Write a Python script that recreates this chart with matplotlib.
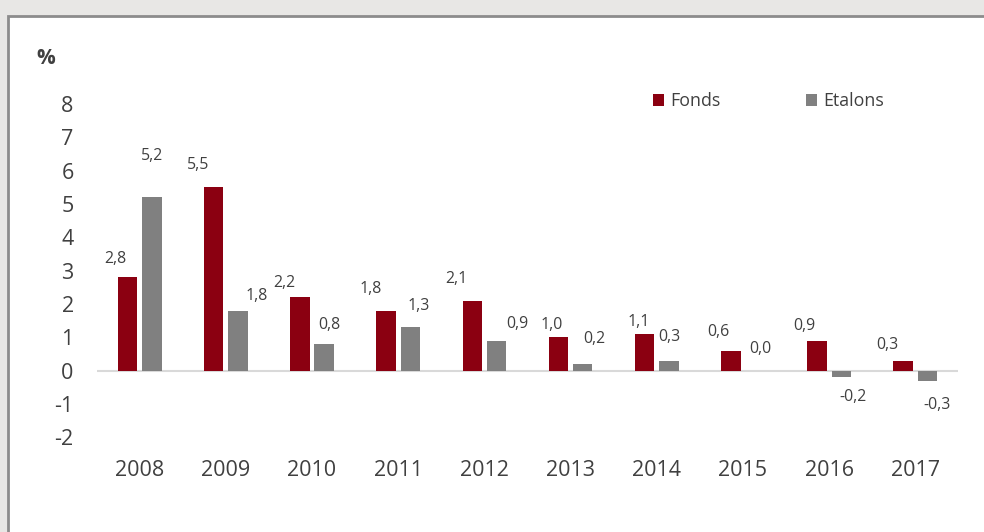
import numpy as np
import matplotlib
matplotlib.use("Agg")
import matplotlib.pyplot as plt
from matplotlib.patches import Rectangle

# Data
years = ["2008", "2009", "2010", "2011", "2012", "2013", "2014", "2015", "2016", "2017"]
fonds = [2.8, 5.5, 2.2, 1.8, 2.1, 1.0, 1.1, 0.6, 0.9, 0.3]
etalons = [5.2, 1.8, 0.8, 1.3, 0.9, 0.2, 0.3, 0.0, -0.2, -0.3]
y_ticks = [-2, -1, 0, 1, 2, 3, 4, 5, 6, 7, 8]

# Label offsets (pixels) from the bar end, as placed in the original
fonds_dx = [-12.5, -15.4, -15.8, -15.2, -15.5, -6.3, -5.5, -12.7, -12.2, -15.4]
fonds_dy = [18.7, 22.3, 14.3, 21.7, 21.7, 12.3, 12.0, 18.7, 14.7, 15.7]
etal_dx = [0.0, 18.7, 5.6, 8.5, 20.3, 11.8, 0.0, 5.7, 11.5, 9.3]
etal_dy = [41.0, 15.0, 19.0, 21.5, 16.7, 25.0, 23.2, 21.7, -19.3, -24.3]

RED = "#8b0011"
GREY = "#808080"
TXT = "#404040"

plt.rcParams["font.family"] = ["Open Sans", "DejaVu Sans"]

fig = plt.figure(figsize=(9.84, 5.32), dpi=100)
fig.patch.set_facecolor("#e8e7e5")
W, H = 984, 532

# White panel with grey border, running off the right and bottom edges
fig.patches.append(Rectangle((8 / W, -0.1), 1.2, 1 - 16 / H + 0.1,
                             transform=fig.transFigure, facecolor="white",
                             edgecolor="#8c8c8c", linewidth=2, zorder=-10))

ax = fig.add_axes([96.6 / W, 1 - 437.4 / H, 861.8 / W, 333.5 / H])
ax.set_zorder(5)
ax.patch.set_alpha(0)

x = np.arange(len(years))
w = 0.226
off = 0.141
b1 = ax.bar(x - off, fonds, w, color=RED, label="Fonds", zorder=3)
b2 = ax.bar(x + off, etalons, w, color=GREY, label="Etalons", zorder=3)
ax.axhline(0, color="#d9d9d9", lw=1.5, zorder=2)

def fmt(v):
    return f"{v:.1f}".replace(".", ",")

for i in range(len(years)):
    ax.annotate(fmt(fonds[i]), (x[i] - off, fonds[i]), xytext=(fonds_dx[i], fonds_dy[i]),
                textcoords="offset pixels", ha="center", va="center",
                fontsize=11.4, color=TXT)
    ax.annotate(fmt(etalons[i]), (x[i] + off, etalons[i]), xytext=(etal_dx[i], etal_dy[i]),
                textcoords="offset pixels", ha="center", va="center",
                fontsize=11.4, color=TXT)

ax.set_xlim(-0.5, len(years) - 0.5)
ax.set_ylim(-2, 8)
ax.set_yticks(y_ticks)
ax.set_yticklabels([str(t) for t in y_ticks])
ax.set_xticks(x)
ax.set_xticklabels(years)
ax.tick_params(axis="both", length=0, labelsize=15.5, labelcolor=TXT, pad=16.5)
for s in ax.spines.values():
    s.set_visible(False)

fig.text(46 / W, 1 - 58 / H, "%", ha="center", va="center",
         fontsize=15, fontweight="bold", color=TXT, zorder=6)

leg = fig.legend(handles=[b1, b2], labels=["Fonds", "Etalons"], ncol=2, frameon=False,
                 loc="center left", bbox_to_anchor=(653 / W, 1 - 101 / H),
                 borderaxespad=0, borderpad=0, handlelength=0.62, handleheight=0.62,
                 handletextpad=0.35, columnspacing=4.8, fontsize=12.8, labelcolor=TXT)
leg.set_zorder(6)

fig.savefig("out.png", dpi=100, facecolor=fig.get_facecolor())
